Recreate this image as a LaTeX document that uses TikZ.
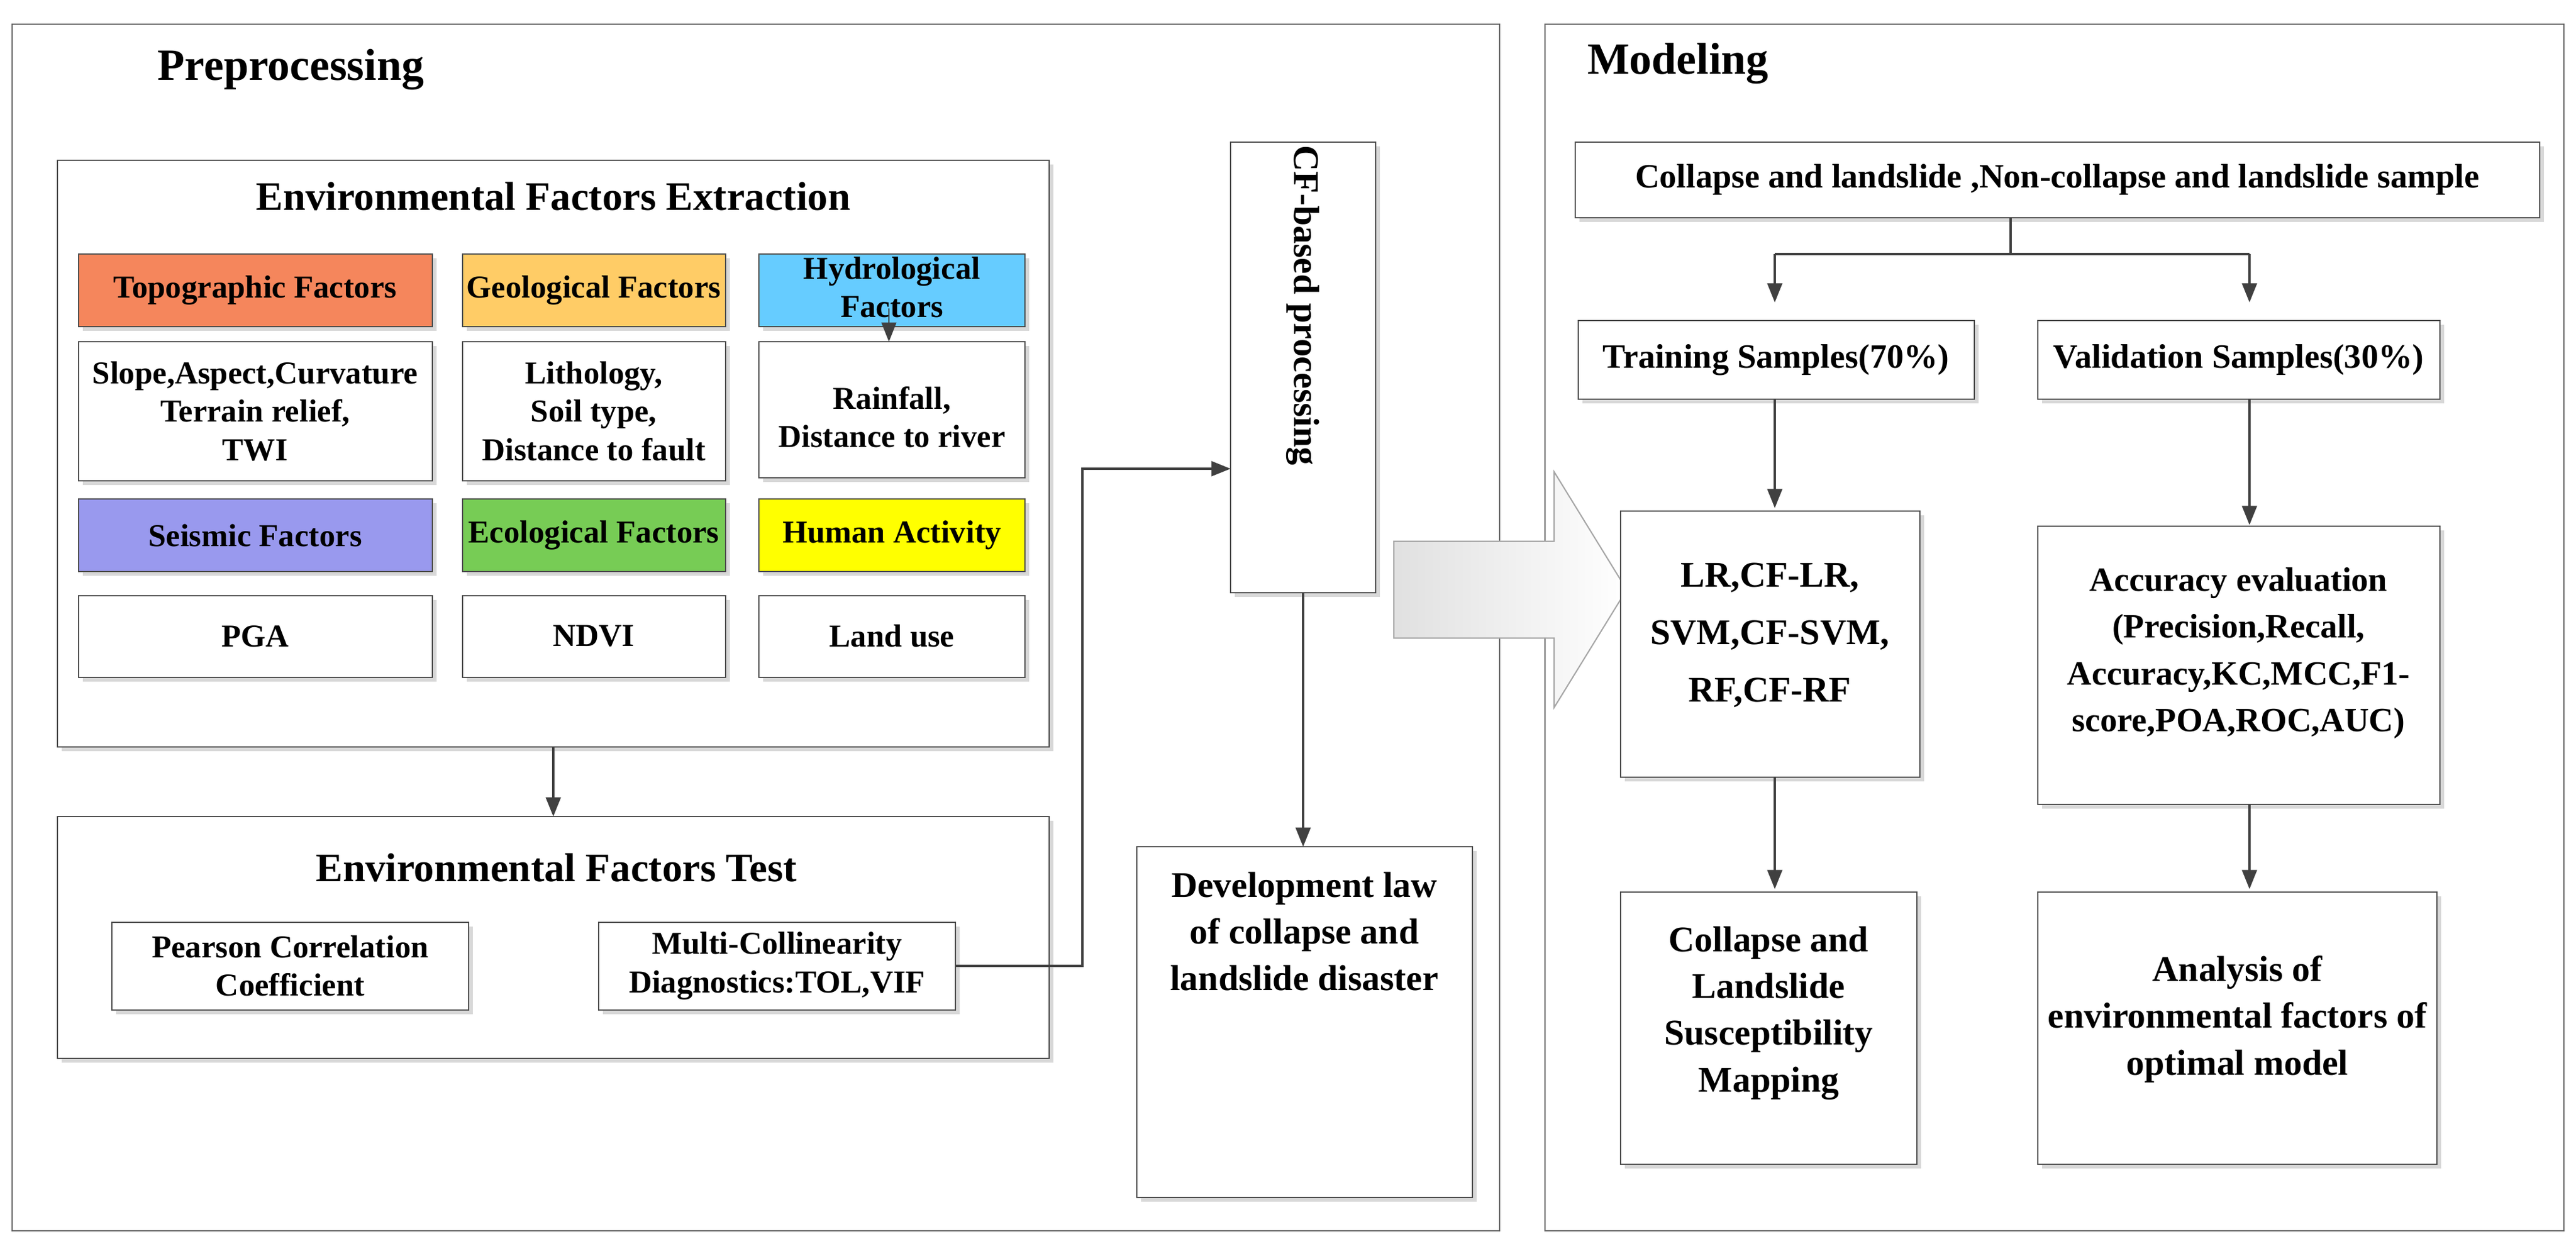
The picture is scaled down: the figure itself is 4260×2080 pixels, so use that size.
\documentclass[tikz,border=0pt]{standalone}
\usepackage{fontspec}
\setmainfont{Liberation Serif}
\usetikzlibrary{arrows.meta,shadows}
\begin{document}
\begin{tikzpicture}[x=0.01cm,y=-0.01cm,
  bx/.style={draw=black!70,line width=0.6pt,fill=white,drop shadow={shadow xshift=2pt,shadow yshift=-2pt,opacity=0.3}},
  panel/.style={draw=black!60,line width=0.8pt},
  t/.style={font=\fontsize{15}{18}\selectfont\bfseries,align=center},
  ttl/.style={font=\fontsize{19}{22}\selectfont\bfseries},
  ar/.style={-{Triangle[length=9pt,width=7pt]},line width=0.9pt,draw=black!75}]
\useasboundingbox (0,0) rectangle (4260,2080);
\fill[white] (0,0) rectangle (4260,2080);
% panels
\draw[panel] (20,40) rectangle (2480,2035);
\draw[panel] (2555,40) rectangle (4240,2035);
\node[font=\fontsize{21}{24}\selectfont\bfseries] (pre) at (481,115) {Preprocessing};
\node[font=\fontsize{21}{24}\selectfont\bfseries] (mod) at (2775,105) {Modeling};
% EFE
\draw[bx] (95,265) rectangle (1735,1235);
\coordinate (efeB) at (915,1235);
\node[ttl] (efe) at (915,325) {Environmental Factors Extraction};
% row1 colored
\draw[bx,fill={rgb,255:red,245;green,134;blue,92}] (130,420) rectangle (715,540);
\node[t] (topo) at (422,480) {Topographic Factors};
\draw[bx,fill={rgb,255:red,255;green,204;blue,102}] (765,420) rectangle (1200,540);
\node[t] (geo) at (982,480) {Geological Factors};
\draw[bx,fill={rgb,255:red,102;green,204;blue,255}] (1255,420) rectangle (1695,540);
\node[t] (hyd) at (1475,475) {Hydrological\\Factors};
% row2
\draw[bx] (130,565) rectangle (715,795);
\node[t] (topot) at (422,680) {Slope,Aspect,Curvature\\Terrain relief,\\TWI};
\draw[bx] (765,565) rectangle (1200,795);
\node[t] (geot) at (982,680) {Lithology,\\Soil type,\\Distance to fault};
\draw[bx] (1255,565) rectangle (1695,790);
\node[t] (hydt) at (1475,690) {Rainfall,\\Distance to river};
\draw[ar,line width=0.6pt] (1470,510) -- (1470,565);
% row3
\draw[bx,fill={rgb,255:red,153;green,153;blue,238}] (130,825) rectangle (715,945);
\node[t] (seis) at (422,885) {Seismic Factors};
\draw[bx,fill={rgb,255:red,119;green,204;blue,85}] (765,825) rectangle (1200,945);
\node[t] (eco) at (982,885) {Ecological Factors};
\draw[bx,fill={rgb,255:red,255;green,255;blue,0}] (1255,825) rectangle (1695,945);
\node[t] (hum) at (1475,885) {Human Activity};
% row4
\draw[bx] (130,985) rectangle (715,1120);
\node[t] (pga) at (422,1052) {PGA};
\draw[bx] (765,985) rectangle (1200,1120);
\node[t] (ndvi) at (982,1052) {NDVI};
\draw[bx] (1255,985) rectangle (1695,1120);
\node[t] (land) at (1475,1052) {Land use};
% EFT
\draw[bx] (95,1350) rectangle (1735,1750);
\coordinate (eftT) at (915,1350);
\draw[ar] (efeB) -- (eftT);
\node[ttl] (eft) at (920,1435) {Environmental Factors Test};
\draw[bx] (185,1525) rectangle (775,1670);
\node[t] (pear) at (480,1597) {Pearson Correlation\\Coefficient};
\draw[bx] (990,1525) rectangle (1580,1670);
\node[t] (multi) at (1285,1597) {Multi-Collinearity\\Diagnostics:TOL,VIF};
% CF
\draw[bx] (2035,235) rectangle (2275,980);
\node[font=\fontsize{17}{20}\selectfont\bfseries,rotate=-90] (cf) at (2155,505) {CF-based processing};
\coordinate (m1) at (1580,1597);
\coordinate (m2) at (1790,1597);
\coordinate (m3) at (1790,775);
\coordinate (cfL) at (2035,775);
\draw[ar] (m1) -- (m2) -- (m3) -- (cfL);
% Dev
\draw[bx] (1880,1400) rectangle (2435,1980);
\node[t,font=\fontsize{17}{22}\selectfont\bfseries] (dev) at (2157,1540) {Development law\\of collapse and\\landslide disaster};
\draw[ar] (2155,980) -- (2155,1400);
% hollow arrow
\shade[left color=black!12,right color=white,draw=black!35,line width=0.6pt]
 (2305,895) -- (2570,895) -- (2570,780) -- (2690,975) -- (2570,1170) -- (2570,1055) -- (2305,1055) -- cycle;
% right
\draw[bx] (2605,235) rectangle (4200,360);
\node[t,font=\fontsize{16}{19}\selectfont\bfseries] (samp) at (3402,297) {Collapse and landslide ,Non-collapse and landslide sample};
\draw[line width=0.9pt,draw=black!75] (3325,360) -- (3325,420);
\draw[line width=0.9pt,draw=black!75] (2935,420) -- (3720,420);
\draw[ar] (2935,420) -- (2935,500);
\draw[ar] (3720,420) -- (3720,500);
\draw[bx] (2610,530) rectangle (3265,660);
\node[t,font=\fontsize{16}{19}\selectfont\bfseries] (train) at (2937,595) {Training Samples(70\%)};
\draw[bx] (3370,530) rectangle (4035,660);
\node[t,font=\fontsize{16}{19}\selectfont\bfseries] (val) at (3702,595) {Validation Samples(30\%)};
\draw[ar] (2935,660) -- (2935,840);
\draw[ar] (3720,660) -- (3720,868);
\draw[bx] (2680,845) rectangle (3175,1285);
\node[t,font=\fontsize{17}{27}\selectfont\bfseries] (lr) at (2927,1050) {LR,CF-LR,\\SVM,CF-SVM,\\RF,CF-RF};
\draw[bx] (3370,870) rectangle (4035,1330);
\node[t,font=\fontsize{16}{22}\selectfont\bfseries] (acc) at (3702,1080) {Accuracy evaluation\\(Precision,Recall,\\Accuracy,KC,MCC,F1-\\score,POA,ROC,AUC)};
\draw[ar] (2935,1285) -- (2935,1470);
\draw[ar] (3720,1330) -- (3720,1470);
\draw[bx] (2680,1475) rectangle (3170,1925);
\node[t,font=\fontsize{17}{22}\selectfont\bfseries] (col) at (2925,1675) {Collapse and\\Landslide\\Susceptibility\\Mapping};
\draw[bx] (3370,1475) rectangle (4030,1925);
\node[t,font=\fontsize{17}{22}\selectfont\bfseries] (ana) at (3700,1685) {Analysis of\\environmental factors of\\optimal model};
\end{tikzpicture}
\end{document}
